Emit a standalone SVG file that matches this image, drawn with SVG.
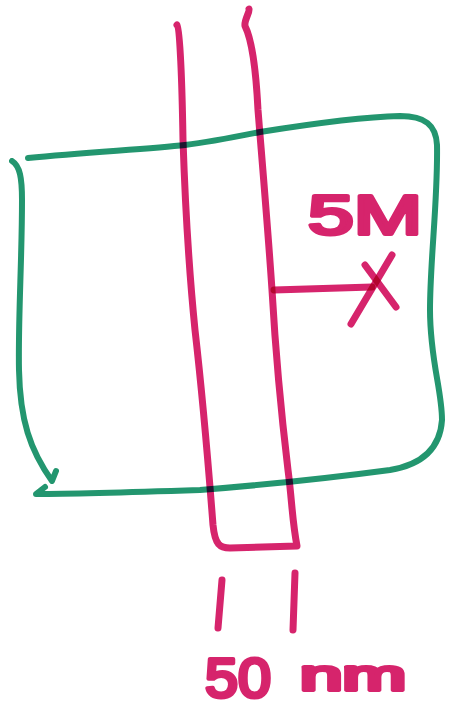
<svg xmlns="http://www.w3.org/2000/svg" width="452" height="712" viewBox="0 0 452 712">
<style>
.g{fill:none;stroke:#23966f;stroke-width:6;stroke-linecap:round;stroke-linejoin:round;mix-blend-mode:multiply}
.p{fill:none;stroke:#d6246c;stroke-width:7;stroke-linecap:round;stroke-linejoin:round;mix-blend-mode:multiply}
.t{fill:#d6246c;stroke:#d6246c;stroke-width:4;stroke-linejoin:round;font-family:"Liberation Sans",Arial,sans-serif}
</style>
<rect width="452" height="712" fill="#ffffff"/>
<g id="box">
<path class="g" d="M28,158 C90,152 150,149 185,145 C210,142 240,136 260,132 C310,124 360,117 400,116 C425,116 436,125 437,145 C438,200 430,260 430,310 C430,360 442,390 442,420 C440,450 420,465 390,470 C330,478 250,486 200,490 C140,492 80,494 36,494 L45,487"/>
<path class="g" d="M12,161 C20,166 22,178 22,200 C22,260 18,320 19,370 C20,420 30,450 52,481 L56,471"/>
</g>
<g id="wire">
<path class="p" d="M177,25 C180,28 182,80 183,140 C185,200 188,260 195,330 C203,400 208,460 213,525 C215,545 220,548 230,548 L297,546 C292,520 292,500 288,470 C282,420 276,360 272,290 C268,230 262,160 258,110 C256,70 252,40 245,26 C244,20 250,12 249,9"/>
</g>
<g id="arrow">
<path class="p" d="M274,290 L372,287"/>
<path class="p" d="M392,255 L351,324"/>
<path class="p" d="M365,265 L396,307"/>
</g>
<g id="label-5m">
<text class="t" x="308" y="234" font-size="56" textLength="114" lengthAdjust="spacingAndGlyphs">5M</text>
</g>
<g id="scale">
<path class="p" d="M222,580 L218,628"/>
<path class="p" d="M295,573 L293,630"/>
<text class="t" x="205" y="697" font-size="56" textLength="66" lengthAdjust="spacingAndGlyphs">50</text>
<text class="t" x="300" y="690" font-size="42" textLength="106" lengthAdjust="spacingAndGlyphs">nm</text>
</g>
</svg>
